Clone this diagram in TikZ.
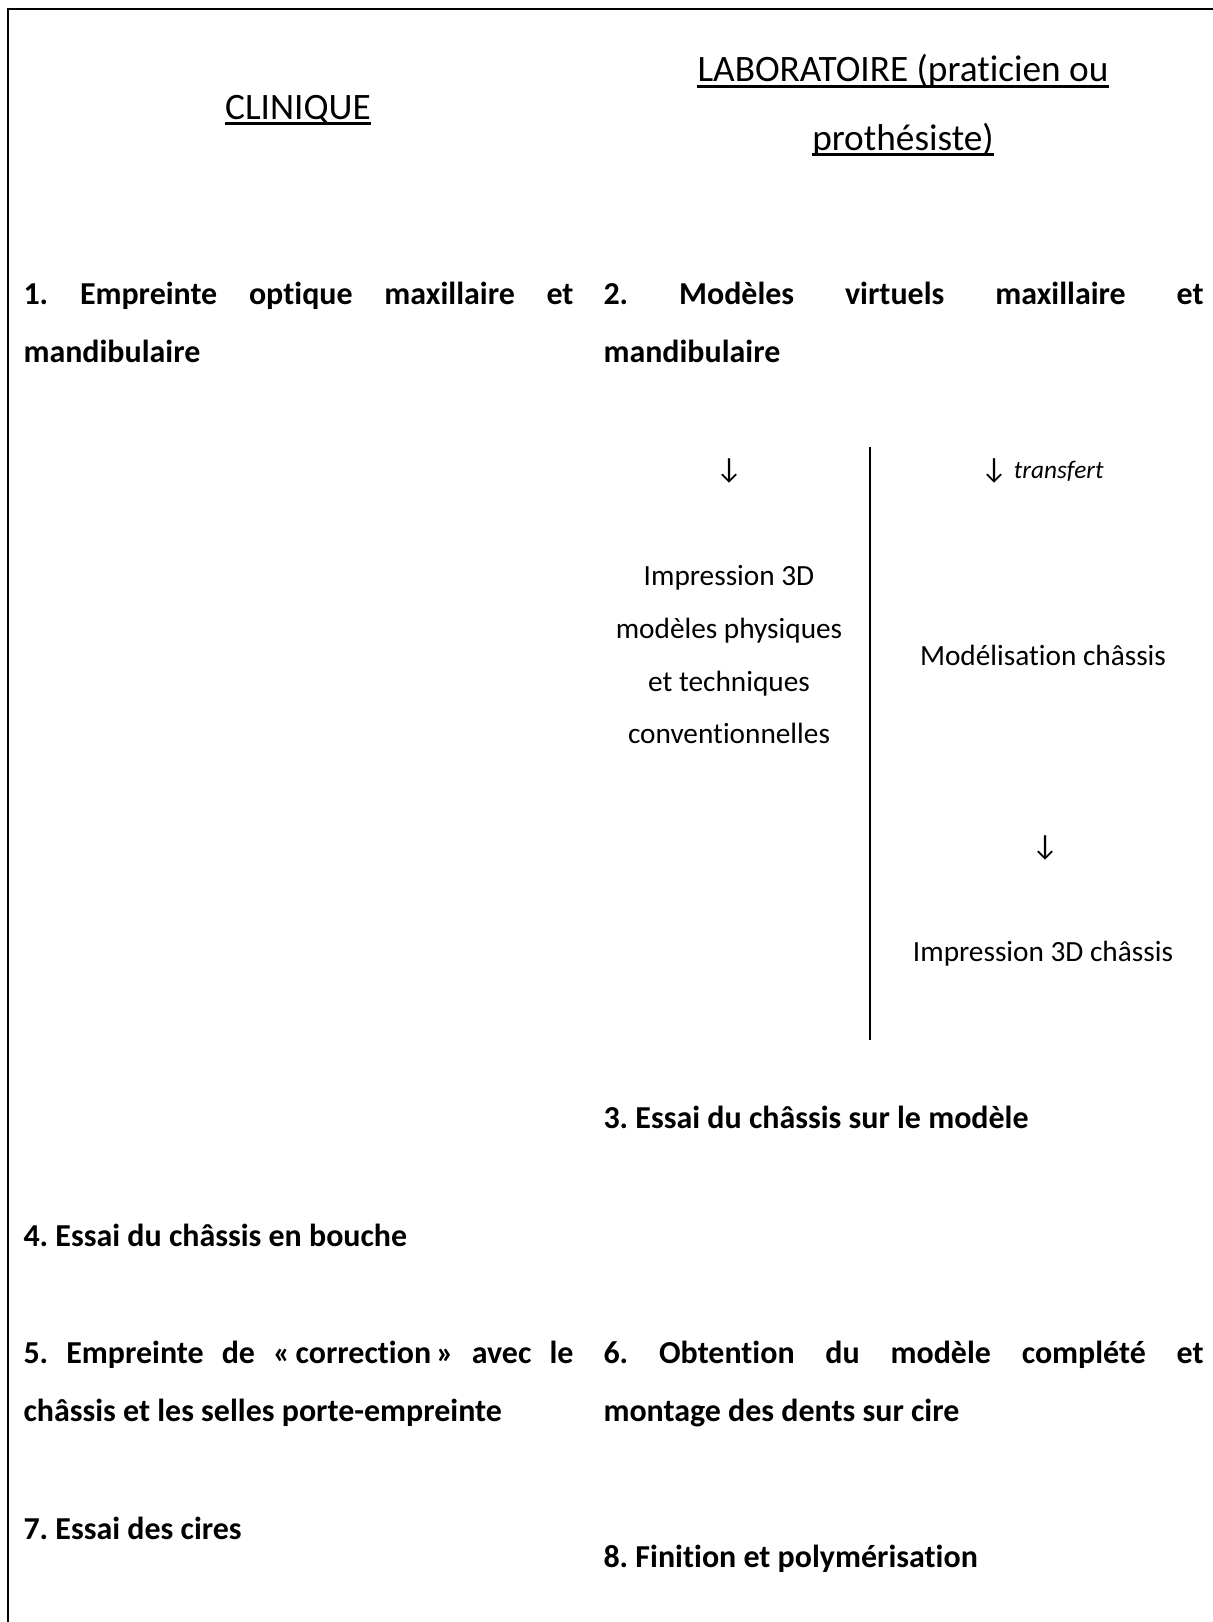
\documentclass[tikz,border=0pt]{standalone}
\usepackage{fontspec}
\setmainfont{Carlito}[Ligatures=NoCommon]
\usepackage{tikz}
\frenchspacing

\tikzset{
  titre/.style={font=\fontsize{14}{17}\selectfont, inner sep=0pt, anchor=base},
  etape/.style={font=\fontsize{12}{14}\selectfont\bfseries, inner sep=0pt, anchor=base west},
  note/.style={font=\fontsize{11}{13}\selectfont, inner sep=0pt, anchor=base},
  souligne/.style={line width=0.9pt},
  cadre/.style={line width=0.8pt}
}

\begin{document}
\begin{tikzpicture}[x=0.3755pt, y=-0.3755pt]
  \useasboundingbox (0,0) rectangle (1213,1622);
  \draw[cadre] (8,1622) -- (8,9) -- (1213,9);
  % titres
  \node[titre] (clin) at (298,119) {CLINIQUE};
  \node[titre] (labo) at (903,82) {LABORATOIRE (praticien ou};
  \node[titre] (prot) at (903,150) {prothésiste)};
  \foreach \t in {clin,labo,prot}
    \draw[souligne] ([yshift=-1.7pt]\t.base west) -- ([yshift=-1.7pt]\t.base east);
  % etapes 1 et 2
  \node[etape] (e1a) at (23,304) {\makebox[206.5pt][s]{1. Empreinte optique maxillaire et}};
  \node[etape] (e1b) at (23,362) {mandibulaire};
  \node[etape] (e2a) at (603,304) {\makebox[225.3pt][s]{2. Modèles virtuels maxillaire et}};
  \node[etape] (e2b) at (603,362) {mandibulaire};
  % deux voies
  \node[note] (fg) at (729,478) {↓};
  \node[note, anchor=base east] (fd) at (1104,478) {↓ {\fontsize{9.5}{11}\selectfont\itshape transfert}};
  \node[note] (imp1) at (729,585) {Impression 3D};
  \node[note] (imp2) at (729,638) {modèles physiques};
  \node[note] (imp3) at (729,691) {et techniques};
  \node[note] (imp4) at (729,743) {conventionnelles};
  \node[note] (mod) at (1043,665) {Modélisation châssis};
  \node[note] (fd2) at (1045,855) {↓};
  \node[note] (impc) at (1043,961) {Impression 3D châssis};
  \coordinate (sephaut) at (870,447);
  \coordinate (sepbas) at (870,1040);
  \draw[line width=0.6pt] (sephaut) -- (sepbas);
  % etapes 3 a 8
  \node[etape] (e3) at (603,1128) {3. Essai du châssis sur le modèle};
  \node[etape] (e4) at (23,1246) {4. Essai du châssis en bouche};
  \node[etape] (e5a) at (23,1363) {\makebox[206.5pt][s]{5. Empreinte de «\,correction\,» avec le}};
  \node[etape] (e5b) at (23,1421) {châssis et les selles porte-empreinte};
  \node[etape] (e6a) at (603,1363) {\makebox[225.3pt][s]{6. Obtention du modèle complété et}};
  \node[etape] (e6b) at (603,1421) {montage des dents sur cire};
  \node[etape] (e7) at (23,1539) {7. Essai des cires};
  \node[etape] (e8) at (603,1567) {8. Finition et polymérisation};
\end{tikzpicture}
\end{document}
